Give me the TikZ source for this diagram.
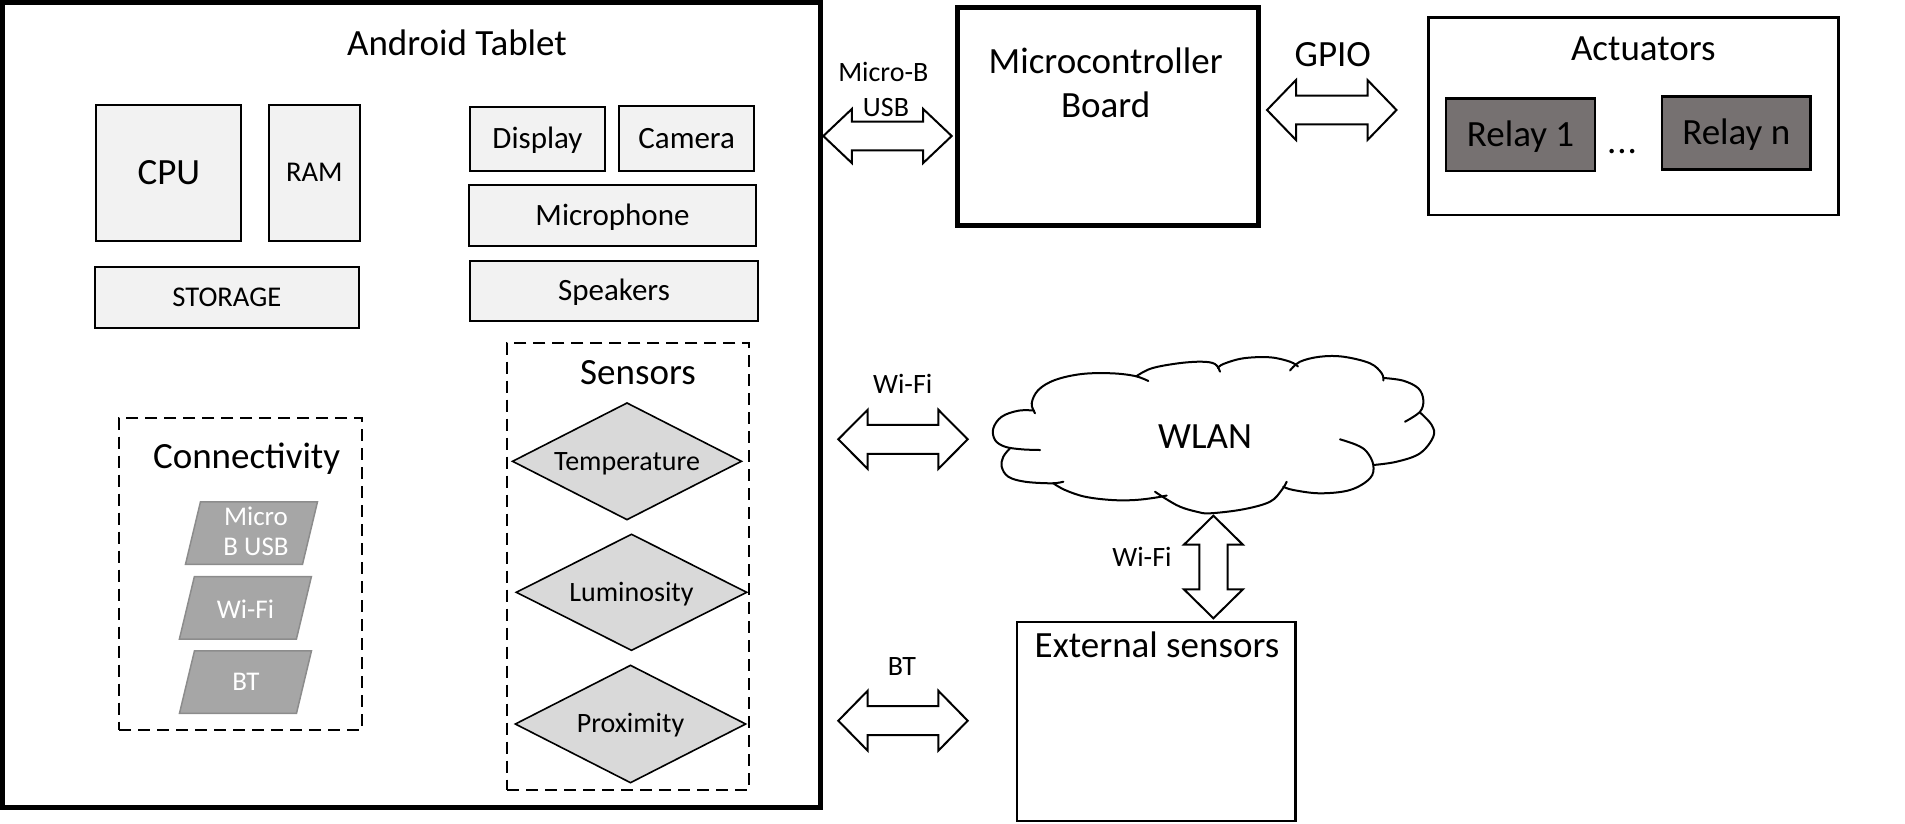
\documentclass[tikz,border=0pt]{standalone}
\usepackage{fontspec}
\setmainfont{Carlito}
\usetikzlibrary{calc,shapes.geometric}
\definecolor{boxgray}{HTML}{F2F2F2}
\definecolor{diagray}{HTML}{D9D9D9}
\definecolor{paragray}{HTML}{A6A6A6}
\definecolor{paraedge}{HTML}{8C8C8C}
\definecolor{relaygray}{HTML}{767171}
\newcommand\FontL{\fontsize{37}{44}\selectfont}
\newcommand\FontM{\fontsize{31}{37}\selectfont}
\newcommand\FontR{\fontsize{28.6}{35}\selectfont}
\newcommand\FontS{\fontsize{28}{35}\selectfont}
\newcommand\FontP{\fontsize{27}{30}\selectfont}
\begin{document}
\begin{tikzpicture}[x=1pt,y=-1pt,
  capL/.style={font=\FontL, text height=23.4pt, text depth=0pt, inner sep=0pt},
  capM/.style={font=\FontM, text height=19.6pt, text depth=0pt, inner sep=0pt},
  capR/.style={font=\FontR, text height=18.1pt, text depth=0pt, inner sep=0pt},
  capS/.style={font=\FontS, text height=17.7pt, text depth=0pt, inner sep=0pt},
  lblS/.style={font=\FontS, inner sep=0pt, anchor=base},
  box/.style={draw=black, line width=2pt, fill=boxgray, inner sep=0pt},
  bigbox/.style={draw=black, line width=5pt, inner sep=0pt},
  framebox/.style={draw=black, line width=2.5pt, inner sep=0pt},
  relaybox/.style={draw=black, line width=2.5pt, fill=relaygray, inner sep=0pt, capL},
  dashbox/.style={draw=black, line width=2pt, dash pattern=on 12pt off 7pt, inner sep=0pt},
  dia/.style={shape=diamond, aspect=2, draw=black, line width=1.6pt, fill=diagray, capS},
  para/.style={fill=paragray, draw=paraedge, line width=1.5pt},
  paratext/.style={font=\FontP, text=white, inner sep=0pt, align=center},
  cloudline/.style={draw=black, line width=2pt, line cap=round},
  blockarrow/.style n args={3}{draw=black, fill=white, line width=2pt, line join=miter,
    to path={
      ($(\tikztostart)!#1!(\tikztotarget)!#2!90:(\tikztotarget)$)
      -- ($(\tikztostart)!#1!(\tikztotarget)!#3!90:(\tikztotarget)$)
      -- ($(\tikztotarget)!#1!(\tikztostart)!#3!-90:(\tikztostart)$)
      -- ($(\tikztotarget)!#1!(\tikztostart)!#2!-90:(\tikztostart)$)
      -- (\tikztotarget)
      -- ($(\tikztotarget)!#1!(\tikztostart)!#2!90:(\tikztostart)$)
      -- ($(\tikztotarget)!#1!(\tikztostart)!#3!90:(\tikztostart)$)
      -- ($(\tikztostart)!#1!(\tikztotarget)!#3!-90:(\tikztotarget)$)
      -- ($(\tikztostart)!#1!(\tikztotarget)!#2!-90:(\tikztotarget)$)
      -- (\tikztostart) -- cycle}}
]
\useasboundingbox (0,0) rectangle (1905,823);

% ---------------- Android tablet ----------------
\node[bigbox, minimum width=818pt, minimum height=805pt] (tablet) at (411.5,405) {};
\node[capL] (tabletT) at (457,44.2) {Android Tablet};

\node[box, capL, minimum width=145pt, minimum height=136pt] (cpu) at (168.9,172.9) {CPU};
\node[box, capR, minimum width=91pt, minimum height=136pt] (ram) at (314.4,172.9) {RAM};
\node[box, capR, minimum width=264pt, minimum height=61pt] (storage) at (226.9,297) {STORAGE};

\node[box, capM, minimum width=135pt, minimum height=64pt] (display) at (537.5,139) {Display};
\node[box, capM, minimum width=135pt, minimum height=65pt] (camera) at (686.7,138.5) {Camera};
\node[box, capM, minimum width=287pt, minimum height=61pt] (micro) at (612.5,215.4) {Microphone};
\node[box, capM, minimum width=288pt, minimum height=60pt] (speak) at (614,290.9) {Speakers};

% sensors
\node[dashbox, minimum width=242pt, minimum height=447pt] (sensors) at (628.3,566.2) {};
\node[capL] (sensorsT) at (638,372.5) {Sensors};
\node[dia, minimum width=229.5pt, minimum height=117.3pt] (temp) at (627,461.3) {Temperature};
\node[dia, minimum width=231pt, minimum height=116.7pt] (lum) at (631.5,592.3) {Luminosity};
\node[dia, minimum width=231pt, minimum height=118pt] (prox) at (630.5,724) {Proximity};

% connectivity
\node[dashbox, minimum width=243pt, minimum height=312pt] (conn) at (240.7,573.7) {};
\node[capL] (connT) at (246.6,456.7) {Connectivity};

\coordinate (usbPc) at (251.5,533);
\coordinate (wifiPc) at (245.4,607.8);
\coordinate (btPc) at (245.5,682);
\foreach \c in {usbPc,wifiPc,btPc}{
  \filldraw[para] ($(\c)+(-51,-31.25)$) -- ($(\c)+(66,-31.25)$) -- ($(\c)+(51,31.25)$) -- ($(\c)+(-66,31.25)$) -- cycle;
}
\node[paratext] (usbP) at (256,531) {Micro\\B USB};
\node[font=\FontP, text=white, inner sep=0pt, anchor=base] (wifiP) at (245.5,618.3) {Wi-Fi};
\node[font=\FontP, text=white, inner sep=0pt, anchor=base] (btP) at (246,690) {BT};

% ---------------- Microcontroller ----------------
\node[bigbox, minimum width=301pt, minimum height=218pt] (mcu) at (1108,116) {};
\node[capL] (mcuT1) at (1105.7,62) {Microcontroller};
\node[capL] (mcuT2) at (1105.7,106) {Board};

% ---------------- Actuators ----------------
\node[framebox, minimum width=410pt, minimum height=197.7pt] (act) at (1633.3,116.2) {};
\node[capL] (actT) at (1643.3,48.3) {Actuators};
\node[relaybox, minimum width=149pt, minimum height=72.7pt] (relay1) at (1520.5,134.7) {Relay 1};
\node[relaybox, minimum width=148.7pt, minimum height=72.7pt] (relayn) at (1736.3,133) {Relay n};
\node[font=\FontL, inner sep=0pt, anchor=base] (dots) at (1622,153.5) {.\kern1pt.\kern1pt.};

% ---------------- External sensors ----------------
\node[framebox, minimum width=278.6pt, minimum height=199pt] (ext) at (1156.2,721.5) {};
\node[capL] (extT) at (1157,645.8) {External sensors};

% ---------------- WLAN cloud ----------------
\coordinate (wlan) at (1213,435);
\draw[cloudline] plot[smooth, tension=0.6] coordinates {(1040,450) (1021.7,449.3) (1005,446.7) (995,440) (993.3,428.3) (1001.7,416.7) (1018.3,410.7) (1034,410.5)};
\draw[cloudline] plot[smooth, tension=0.6] coordinates {(1035,413.3) (1031.7,403.3) (1038.3,390) (1055,380) (1081.7,374) (1111.7,373.3) (1135,376) (1148.3,381)};
\draw[cloudline] plot[smooth, tension=0.6] coordinates {(1136.7,376) (1151.7,368.3) (1178.3,363.3) (1201.7,361.7) (1215,364) (1220,371.7)};
\draw[cloudline] plot[smooth, tension=0.6] coordinates {(1218,368) (1223.3,364) (1243.3,358.3) (1270,357.3) (1290,361.7) (1298,366.5)};
\draw[cloudline] plot[smooth, tension=0.6] coordinates {(1290,370.5) (1300,361.7) (1320,356.7) (1343.3,356.7) (1370,363.3) (1381.7,373.3) (1383.3,380.5)};
\draw[cloudline] plot[smooth, tension=0.6] coordinates {(1405,421.7) (1420,411.7) (1423.3,400) (1418.3,388.3) (1403.3,380.7) (1384,378)};
\draw[cloudline] plot[smooth, tension=0.6] coordinates {(1420,412.5) (1431.7,425) (1433.3,436.7) (1420,453.3) (1396.7,461.7) (1373.3,465)};
\draw[cloudline] plot[smooth, tension=0.6] coordinates {(1340,439.3) (1356.7,445) (1366.7,451.7) (1373.3,465) (1370,478.3) (1350,490) (1320,493.3) (1293.3,490) (1283.3,486.7)};
\draw[cloudline] plot[smooth, tension=0.6] coordinates {(1286.7,481.7) (1281.7,490) (1270,501.7) (1243.3,509.3) (1210,513.3) (1196.7,511.7) (1180,506.7) (1165,498.3) (1155,491.7)};
\draw[cloudline] plot[smooth, tension=0.6] coordinates {(1166.7,495.5) (1155,497.7) (1135,500) (1111.7,500) (1085,496.7) (1065,490) (1053.3,483.3)};
\draw[cloudline] plot[smooth, tension=0.6] coordinates {(1063.3,481.7) (1051.7,483.3) (1025,481.7) (1008.3,476.7) (1001.7,466.7) (1003.3,456.7) (1010,448.3)};
\node[capL] (wlanT) at (1205,436.7) {WLAN};

% ---------------- Block arrows ----------------
\coordinate (usbA) at (823.3,136);   \coordinate (usbB) at (951.7,136);
\coordinate (gpioA) at (1267,110);   \coordinate (gpioB) at (1396.5,110);
\coordinate (wifiA) at (838.3,439.3); \coordinate (wifiB) at (967.7,439.3);
\coordinate (btA) at (838.3,720.7);  \coordinate (btB) at (967.7,720.7);
\coordinate (vwA) at (1213.4,515.7); \coordinate (vwB) at (1213.4,618.3);

\draw[blockarrow={28.5pt}{27pt}{14.3pt}] (usbA) to (usbB);
\draw[blockarrow={29pt}{30pt}{14.3pt}] (gpioA) to (gpioB);
\draw[blockarrow={29.4pt}{29.6pt}{14.5pt}] (wifiA) to (wifiB);
\draw[blockarrow={29.4pt}{30pt}{14.5pt}] (btA) to (btB);
\draw[blockarrow={29pt}{29.5pt}{14.1pt}] (vwA) to (vwB);

% arrow labels
\node[lblS] (usbL1) at (883.3,81.7) {Micro-B};
\node[lblS] (usbL2) at (886,116.7) {USB};
\node[capL] (gpioL) at (1332.8,54.7) {GPIO};
\node[lblS] (wifiL) at (902.7,393.3) {Wi-Fi};
\node[lblS] (btL) at (902,675) {BT};
\node[lblS] (vwL) at (1142,566.7) {Wi-Fi};
\end{tikzpicture}
\end{document}
